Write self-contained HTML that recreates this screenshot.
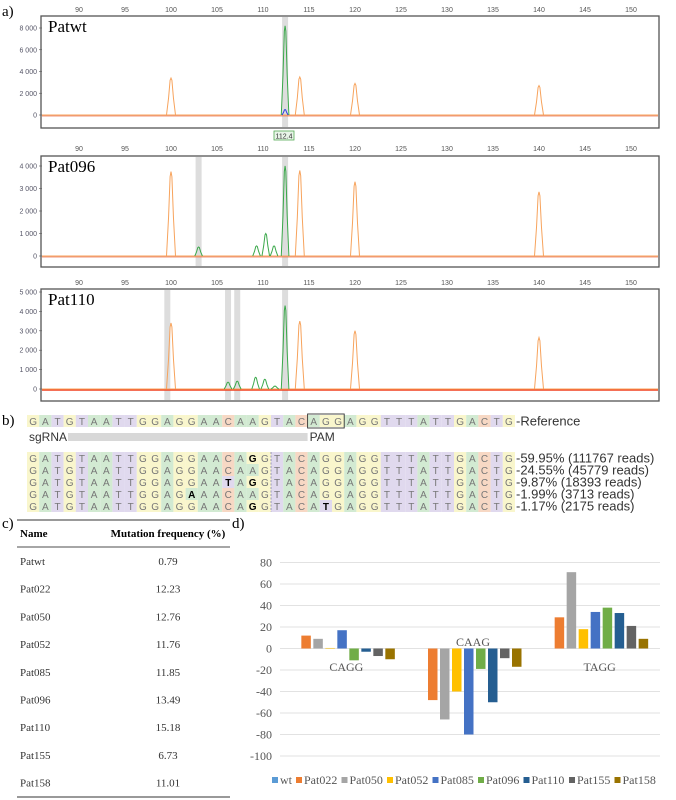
<!DOCTYPE html>
<html><head><meta charset="utf-8"><style>
body{margin:0;background:#fff;}
svg{display:block;font-family:"Liberation Sans",sans-serif;}
.serif{font-family:"Liberation Serif",serif;}
</style></head><body>
<svg id="fig" width="676" height="800" viewBox="0 0 676 800">
<g id="panelA"></g>
<g id="panelB"></g>
<g id="panelC"></g>
<g id="panelD"></g>
</svg>
<script>
const NS="http://www.w3.org/2000/svg";
function el(tag,attrs,parent,text){const e=document.createElementNS(NS,tag);for(const k in attrs)e.setAttribute(k,attrs[k]);if(text!==undefined)e.textContent=text;parent.appendChild(e);return e;}

/* ---------- Panel A data ---------- */
const xTicksA=[90,95,100,105,110,115,120,125,130,135,140,145,150];
const traceNames=["Patwt","Pat096","Pat110"];
const traceYMax=[8000,4000,5000];
const traceYTicks=[[8000,6000,4000,2000,0],[4000,3000,2000,1000,0],[5000,4000,3000,2000,1000,0]];
const orangePos=[100,114,120,140];
const orangeH=[[3400,3500,2900,2700],[3750,3800,3300,2850],[3400,3500,3000,2650]];
const greenPos=[[112.4],[103,109.3,110.3,111.2,112.4],[106.2,107.2,109.2,110.2,111.3,112.4]];
const greenH=[[8200],[400,450,1000,450,4000],[350,400,600,500,150,4300]];
const bluePos=[[112.4],[],[]];
const blueH=[[500],[],[]];
const highlights=[[112.4],[103,112.4],[99.6,106.2,107.2,112.4]];
const frames=[{top:16,bot:128,zero:115,pxPerUnit:87/8000,tickY:9},{top:156,bot:267,zero:256,pxPerUnit:90/4000,tickY:148},{top:289,bot:401,zero:389,pxPerUnit:97/5000,tickY:282}];
const ax=v=>79+(v-90)*9.2;
const A=document.getElementById('panelA');
el('text',{x:2,y:16,'font-size':15,class:'serif',},A,'a)');
frames.forEach((f,i)=>{
  const g=el('g',{},A);
  xTicksA.forEach(t=>{el('text',{x:ax(t),y:f.tickY+3,'font-size':7,fill:'#555','text-anchor':'middle'},g,String(t));
    el('line',{x1:ax(t),x2:ax(t),y1:f.top,y2:f.top+3,stroke:'#888','stroke-width':0.6},g);});
  el('rect',{x:41,y:f.top,width:618,height:f.bot-f.top,fill:'#fff',stroke:'#555','stroke-width':1.3},g);
  const yy=v=>f.zero-v*f.pxPerUnit;
  traceYTicks[i].forEach(t=>{el('text',{x:37,y:yy(t)+2.5,'font-size':7,fill:'#556','text-anchor':'end'},g,t===0?'0':(t/1000)+' 000');
    el('line',{x1:39,x2:42,y1:yy(t),y2:yy(t),stroke:'#555','stroke-width':0.6},g);});
  highlights[i].forEach(h=>el('rect',{x:ax(h)-3,y:f.top+1,width:6,height:f.bot-f.top-2,fill:'#ddd'},g));
  el('line',{x1:42,x2:658,y1:f.zero+1,y2:f.zero+1,stroke:i==2?'#f04020':'#e87050','stroke-width':i==2?1.5:0.7},g);
  el('line',{x1:42,x2:658,y1:f.zero,y2:f.zero,stroke:'#f7a35c','stroke-width':0.9},g);
  const peak=(p,h,col,w)=>{const x=ax(p),y=yy(h),b=f.zero;
    el('path',{d:`M${x-w} ${b} L${x-w*0.55} ${b-(b-y)*0.45} L${x-w*0.2} ${y+(b-y)*0.06} L${x} ${y} L${x+w*0.2} ${y+(b-y)*0.06} L${x+w*0.55} ${b-(b-y)*0.45} L${x+w} ${b}`,fill:'none',stroke:col,'stroke-width':1},g);};
  orangePos.forEach((p,j)=>peak(p,orangeH[i][j],'#f7a35c',4.5));
  greenPos[i].forEach((p,j)=>peak(p,greenH[i][j],'#3aa84a',3.8));
  bluePos[i].forEach((p,j)=>peak(p,blueH[i][j],'#3040e0',3));
  el('text',{x:48,y:f.top+16,'font-size':17,class:'serif',fill:'#000',},g,traceNames[i]);
});
const lb=el('g',{},A);
el('rect',{x:274,y:131,width:20,height:9,fill:'#e8f4e8',stroke:'#5a5','stroke-width':0.8},lb);
el('text',{x:284,y:138.5,'font-size':7,'text-anchor':'middle',fill:'#333'},lb,'112.4');

/* ---------- Panel B ---------- */
const refSeq="GATGTAATTGGAGGAACAAGTACAGGAGGTTTATTGACTG";
const readSeqs=["GATGTAATTGGAGGAACAGGTACAGGAGGTTTATTGACTG","GATGTAATTGGAGGAACAAGTACAGGAGGTTTATTGACTG","GATGTAATTGGAGGAATAGGTACAGGAGGTTTATTGACTG","GATGTAATTGGAGAAACAAGTACAGGAGGTTTATTGACTG","GATGTAATTGGAGGAACAGGTACATGAGGTTTATTGACTG"];
const readLabels=["59.95% (111767 reads)","24.55% (45779 reads)","9.87% (18393 reads)","1.99% (3713 reads)","1.17% (2175 reads)"];
const B=document.getElementById('panelB');
const bc={A:'#d2ead2',T:'#e0d9ee',G:'#f9f6cc',C:'#f7d8c4'};
const bx=i=>27+i*12.2;
el('text',{x:2,y:425,'font-size':15,class:'serif'},B,'b)');
function seqRow(seq,y,name,ref){const g=el('g',{},B);
  for(let i=0;i<seq.length;i++){const c=seq[i];el('rect',{x:bx(i),y:y-6,width:12.2,height:12,fill:bc[c]},g);
    const mut=ref&&c!==ref[i];el('text',{x:bx(i)+6.1,y:y+4,'font-size':10,'text-anchor':'middle',fill:mut?'#000':'#777','font-weight':mut?'bold':'normal'},g,c);}
  return g;}
const rg=seqRow(refSeq,421,'reference-sequence');
el('text',{x:bx(40)+1,y:425.5,'font-size':13,fill:'#333'},rg,'-Reference');
el('rect',{x:bx(23),y:414,width:12.2*3,height:14,fill:'none',stroke:'#333','stroke-width':0.9,},B);
el('text',{x:29,y:441,'font-size':12,fill:'#333'},B,'sgRNA');
el('rect',{x:68,y:433,width:bx(23)-68,height:8,fill:'#d8d8d8',},B);
el('text',{x:bx(23)+2,y:441,'font-size':12,fill:'#333'},B,'PAM');
readSeqs.forEach((s,k)=>{const y=458+k*12;const g=seqRow(s,y,'read-row-'+(k+1),refSeq);
  el('text',{x:bx(40)+1,y:y+4.5,'font-size':13,fill:'#333'},g,'-'+readLabels[k]);});
el('line',{x1:bx(20),x2:bx(20),y1:452,y2:512,stroke:'#88a','stroke-width':0.8,'stroke-dasharray':'2,1.5'},B);

/* ---------- Panel C ---------- */
const tblNames=["Patwt","Pat022","Pat050","Pat052","Pat085","Pat096","Pat110","Pat155","Pat158"];
const tblFreq=["0.79","12.23","12.76","11.76","11.85","13.49","15.18","6.73","11.01"];
const C=document.getElementById('panelC');
el('text',{x:2,y:528,'font-size':15,class:'serif'},C,'c)');
el('line',{x1:17,x2:230,y1:520,y2:520,stroke:'#333','stroke-width':1},C);
el('text',{x:20,y:537,'font-size':11,'font-weight':'bold',class:'serif'},C,'Name');
el('text',{x:168,y:537,'font-size':11,'font-weight':'bold',class:'serif','text-anchor':'middle'},C,'Mutation frequency (%)');
el('line',{x1:17,x2:230,y1:547,y2:547,stroke:'#888','stroke-width':1.5},C);
tblNames.forEach((n,i)=>{const y=565+i*27.7;const g=el('g',{},C);
  el('text',{x:20,y:y,'font-size':11,class:'serif',fill:'#333'},g,n);
  el('text',{x:168,y:y,'font-size':11,class:'serif',fill:'#333','text-anchor':'middle'},g,tblFreq[i]);});
el('line',{x1:17,x2:230,y1:797,y2:797,stroke:'#333','stroke-width':1},C);

/* ---------- Panel D ---------- */
const categories=["CAGG","CAAG","TAGG"];
const seriesNames=["wt","Pat022","Pat050","Pat052","Pat085","Pat096","Pat110","Pat155","Pat158"];
const seriesColors=["#5b9bd5","#ed7d31","#a5a5a5","#ffc000","#4472c4","#70ad47","#255e91","#636363","#997300"];
const valCAGG=[0,12,9,0.5,17,-11,-3,-7,-10];
const valCAAG=[0,-48,-66,-40,-80,-19,-50,-9,-17];
const valTAGG=[0,29,71,18,34,38,33,21,9];
const yTicksD=[80,60,40,20,0,-20,-40,-60,-80,-100];
const D=document.getElementById('panelD');
const values=[valCAGG,valCAAG,valTAGG];
const dy=v=>648.5-v*1.075, x0=280,x1=660,gw=(x1-x0)/categories.length;
el('text',{x:232,y:528,'font-size':15,class:'serif'},D,'d)');
yTicksD.forEach(t=>{el('line',{x1:x0,x2:x1,y1:dy(t),y2:dy(t),stroke:'#e2e2e2','stroke-width':1},D);
  el('text',{x:272,y:dy(t)+4,'font-size':12,class:'serif',fill:'#555','text-anchor':'end'},D,String(t));});
categories.forEach((c,ci)=>{const gc=x0+gw*(ci+0.5);
  values[ci].forEach((v,si)=>{const bx0=gc-54+si*12;const r=el('rect',{x:bx0,y:Math.min(dy(v),dy(0)),width:9.5,height:Math.abs(dy(v)-dy(0)),fill:seriesColors[si]},D);
    
    });
  el('text',{x:gc+3,y:ci==1?646:671,'font-size':12,class:'serif',fill:'#555','text-anchor':'middle',},D,c);
});
let lx=272;
seriesNames.forEach((n,i)=>{const g=el('g',{},D);
  el('rect',{x:lx,y:777,width:6,height:6,fill:seriesColors[i]},g);
  el('text',{x:lx+8,y:784,'font-size':12,class:'serif',fill:'#555'},g,n);
  lx+= i==0?24:45.5;});
</script>
</body></html>
